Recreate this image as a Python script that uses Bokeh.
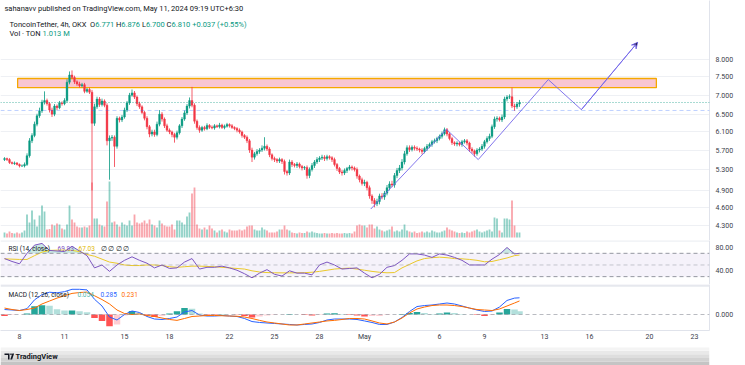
import pandas as pd
from bokeh.plotting import figure
from bokeh.layouts import column
from bokeh.models import (Range1d, LinearScale, FixedTicker, PrintfTickFormatter, Span,
                          Label, BoxAnnotation, PolyAnnotation, Arrow, VeeHead)
from bokeh.embed import file_html
from bokeh.resources import INLINE

FONT = "Roboto"
TXT = "#131722"
AX = "#3a3e4a"
UP = "#089981"
DN = "#f23645"
GRID = "#eef0f4"
SEP = "#e0e3eb"
PROJ = "#7466ea"

# ---------------- data (TONUSDT 4h, OKX) ----------------
start_time = "2024-04-07 00:00"
first_open = 5.50
closes = [5.52, 5.50, 5.44, 5.42, 5.43, 5.40, 5.37, 5.37, 5.40, 5.58,
          5.90, 6.02, 6.28, 6.48, 6.60, 6.82, 6.86, 6.78, 6.62, 6.52,
          6.72, 6.68, 6.80, 6.78, 6.86, 7.35, 7.55, 7.48, 7.36, 7.30,
          7.25, 7.28, 7.10, 7.15, 7.08, 6.30, 6.70, 6.90, 6.76, 6.85,
          6.74, 5.90, 5.96, 5.98, 5.78, 6.42, 6.38, 6.45, 6.62, 6.80,
          7.00, 7.06, 6.95, 6.78, 6.70, 6.56, 6.42, 6.22, 6.05, 6.10,
          6.04, 6.28, 6.52, 6.40, 6.24, 6.14, 6.10, 6.04, 5.98, 6.08,
          6.24, 6.40, 6.55, 6.72, 6.86, 6.74, 6.35, 6.20, 6.14, 6.20,
          6.17, 6.25, 6.21, 6.19, 6.24, 6.22, 6.26, 6.20, 6.23, 6.27,
          6.24, 6.20, 6.18, 6.14, 6.10, 6.02, 5.98, 5.90, 5.70, 5.55,
          5.62, 5.67, 5.70, 5.74, 5.78, 5.72, 5.60, 5.52, 5.50, 5.47,
          5.50, 5.46, 5.26, 5.23, 5.45, 5.40, 5.38, 5.41, 5.36, 5.33,
          5.34, 5.18, 5.30, 5.38, 5.45, 5.50, 5.53, 5.55, 5.52, 5.56,
          5.54, 5.50, 5.40, 5.32, 5.25, 5.23, 5.28, 5.32, 5.35, 5.33,
          5.30, 5.17, 5.10, 5.03, 5.05, 4.95, 4.80, 4.72, 4.66, 4.70,
          4.80, 4.78, 4.85, 4.95, 5.02, 5.00, 5.18, 5.28, 5.33, 5.45,
          5.62, 5.75, 5.71, 5.76, 5.74, 5.72, 5.70, 5.67, 5.73, 5.78,
          5.82, 5.88, 5.90, 5.95, 6.00, 6.06, 6.15, 6.05, 5.95, 5.86,
          5.83, 5.85, 5.82, 5.88, 5.90, 5.85, 5.72, 5.68, 5.62, 5.70,
          5.72, 5.78, 5.88, 5.95, 6.00, 6.22, 6.40, 6.42, 6.38, 6.45,
          6.90, 6.95, 6.96, 6.72, 6.70, 6.771, 6.810]
wick_up = [.03, .02, .03, .02, .03, .02, .02, .03, .04, .05,
           .06, .05, .06, .05, .08, .06, .24, .05, .04, .06,
           .05, .04, .05, .04, .06, .08, .10, .13, .05, .04,
           .06, .05, .05, .04, .05, .06, .08, .06, .05, .06,
           .04, .05, .06, .05, .04, .05, .04, .05, .06, .05,
           .06, .09, .05, .04, .05, .04, .04, .05, .04, .05,
           .05, .06, .10, .05, .04, .05, .04, .03, .04, .05,
           .04, .05, .06, .05, .08, .36, .05, .04, .05, .04,
           .04, .05, .03, .04, .04, .03, .05, .03, .04, .04,
           .03, .04, .03, .03, .04, .03, .03, .04, .04, .05,
           .04, .05, .04, .06, .20, .04, .04, .03, .04, .03,
           .04, .03, .04, .03, .05, .04, .03, .04, .03, .03,
           .03, .04, .04, .05, .04, .05, .04, .05, .04, .04,
           .03, .03, .04, .03, .03, .04, .04, .03, .04, .03,
           .03, .04, .03, .04, .05, .03, .04, .03, .04, .05,
           .04, .05, .04, .05, .05, .06, .05, .05, .06, .06,
           .06, .05, .05, .04, .04, .04, .03, .04, .04, .05,
           .04, .04, .05, .04, .04, .05, .05, .04, .04, .04,
           .03, .04, .03, .04, .04, .04, .03, .04, .03, .04,
           .04, .05, .04, .05, .06, .05, .06, .05, .04, .06,
           .06, .05, .06, .24, .06, .05, .066]
wick_dn = [.03, .03, .03, .02, .03, .02, .03, .02, .03, .03,
           .04, .05, .04, .05, .05, .05, .06, .05, .06, .07,
           .05, .06, .04, .05, .04, .05, .06, .05, .06, .05,
           .05, .04, .05, .04, .05, 1.40, .06, .05, .06, .05,
           .05, .10, .80, .06, .43, .05, .06, .05, .04, .05,
           .05, .04, .05, .06, .05, .04, .05, .06, .07, .05,
           .05, .04, .05, .06, .05, .04, .05, .06, .12, .05,
           .04, .05, .04, .05, .06, .05, .06, .05, .06, .04,
           .04, .03, .04, .03, .04, .03, .04, .03, .04, .03,
           .04, .03, .04, .05, .04, .05, .04, .05, .06, .10,
           .05, .04, .05, .04, .05, .04, .05, .04, .05, .04,
           .04, .05, .06, .05, .04, .05, .04, .05, .04, .05,
           .04, .06, .05, .04, .05, .04, .05, .04, .05, .04,
           .04, .05, .04, .05, .04, .05, .04, .05, .04, .05,
           .04, .05, .05, .04, .05, .05, .05, .06, .06, .04,
           .05, .04, .05, .04, .05, .04, .05, .05, .05, .05,
           .05, .04, .05, .04, .05, .04, .05, .06, .04, .05,
           .04, .05, .04, .05, .04, .05, .04, .05, .04, .05,
           .04, .05, .04, .05, .04, .05, .06, .05, .06, .04,
           .05, .04, .05, .04, .05, .04, .05, .06, .04, .05,
           .05, .06, .05, .05, .10, .05, .071]
volume_m = [1.0, 0.8, 1.2, 0.9, 0.8, 1.0, 0.8, 1.0, 1.4, 4.6,
            3.0, 5.4, 3.6, 2.2, 4.4, 6.4, 5.2, 1.6, 1.7, 2.6,
            2.4, 2.8, 2.6, 1.8, 1.6, 2.6, 6.4, 3.6, 3.0, 2.2,
            2.0, 2.0, 2.2, 2.0, 2.4, 11.0, 3.8, 3.8, 2.6, 2.4,
            2.2, 7.2, 11.2, 3.0, 3.2, 2.6, 2.2, 3.0, 2.6, 2.4,
            3.4, 2.4, 4.6, 3.0, 2.8, 3.0, 3.4, 2.8, 3.6, 2.6,
            2.4, 2.0, 3.4, 2.8, 2.4, 2.2, 2.2, 2.6, 1.6, 3.4,
            3.4, 3.0, 2.6, 4.2, 5.0, 8.8, 10.0, 2.6, 1.8, 1.6,
            2.0, 1.6, 2.4, 1.8, 1.4, 1.0, 1.4, 1.6, 1.2, 1.0,
            1.6, 1.4, 1.4, 1.4, 1.6, 1.4, 1.6, 2.2, 2.4, 2.4,
            1.6, 1.4, 1.4, 2.0, 1.6, 1.4, 1.0, 1.0, 1.0, 1.2,
            1.6, 1.6, 2.4, 1.6, 1.4, 1.0, 0.9, 0.8, 1.0, 0.9,
            0.9, 1.2, 1.0, 1.2, 1.0, 0.9, 0.8, 0.8, 0.9, 0.8,
            0.8, 0.9, 0.8, 0.9, 0.8, 0.8, 0.9, 0.8, 0.9, 0.8,
            1.2, 2.4, 2.6, 2.4, 2.4, 2.0, 2.6, 2.6, 1.8, 2.2,
            1.6, 1.4, 1.2, 1.4, 1.6, 2.2, 1.2, 1.4, 1.2, 1.6,
            2.6, 1.4, 1.2, 1.0, 1.2, 0.9, 1.0, 1.2, 1.0, 1.2,
            1.0, 1.4, 1.2, 1.0, 1.0, 1.2, 1.4, 2.0, 1.6, 1.4,
            1.2, 1.0, 0.9, 1.0, 0.9, 1.2, 1.0, 1.2, 1.4, 1.6,
            1.2, 1.0, 1.2, 1.4, 1.6, 1.2, 4.0, 3.8, 1.4, 1.0,
            3.8, 3.8, 3.6, 7.4, 2.4, 1.0, 1.013]

# indicators, read every third candle (candle index list below)
ind_index = list(range(0, 207, 3)) + [206]
rsi = [61, 56, 52, 70, 84, 87, 75, 74, 73, 82, 74, 66, 45, 50, 39, 50, 58, 64, 58, 53,
       45, 50, 44, 45, 55, 61, 43, 46, 46, 48, 45, 41, 35, 28, 36, 42, 34, 31, 40, 36,
       36, 33, 50, 55, 50, 43, 44, 45, 36, 28, 34, 46, 49, 58, 69, 69, 67, 63, 69, 67,
       63, 58, 50, 50, 50, 60, 68, 80, 69, 69.93]
rsi_ma = [60.5, 60, 59.5, 59.5, 66, 72, 75, 75.5, 75.5, 75, 73, 68, 65, 60, 55, 53, 50, 49, 49, 50,
          50, 49, 47, 46, 47, 48, 48, 47.5, 47, 46, 45, 44, 43, 40, 38, 37, 36.6, 36.5, 36.5, 36.6,
          36.8, 37.5, 39, 41, 43, 44, 44.6, 43, 41, 39, 37.5, 36.6, 37, 45, 51, 57, 61, 62.5, 63.4, 62.5,
          61, 60.5, 59.5, 58, 55.5, 56, 59, 62, 66, 67.03]
macd = [0.085, 0.077, 0.068, 0.10, 0.25, 0.34, 0.38, 0.37, 0.39, 0.43,
        0.43, 0.42, 0.26, 0.145, -0.043, -0.094, 0.0, 0.06, 0.034, -0.034,
        -0.077, -0.085, -0.068, -0.043, 0.043, 0.068, -0.009, -0.026, -0.026, -0.017,
        -0.026, -0.034, -0.068, -0.12, -0.136, -0.145, -0.153, -0.162, -0.17, -0.179,
        -0.17, -0.162, -0.136, -0.094, -0.077, -0.077, -0.077, -0.085, -0.11, -0.136,
        -0.17, -0.17, -0.128, -0.051, 0.051, 0.136, 0.153, 0.162, 0.179, 0.196,
        0.179, 0.145, 0.11, 0.077, 0.051, 0.06, 0.128, 0.24, 0.28, 0.285]
macd_signal = [0.11, 0.085, 0.068, 0.085, 0.11, 0.18, 0.23, 0.28, 0.32, 0.36,
               0.375, 0.383, 0.32, 0.255, 0.18, 0.077, 0.017, 0.0, 0.009, -0.017,
               -0.034, -0.06, -0.085, -0.1, -0.068, -0.034, -0.026, -0.017, -0.017, -0.021,
               -0.026, -0.03, -0.043, -0.068, -0.1, -0.128, -0.145, -0.162, -0.179, -0.179,
               -0.162, -0.145, -0.128, -0.11, -0.1, -0.085, -0.068, -0.068, -0.077, -0.11,
               -0.145, -0.162, -0.128, -0.06, 0.026, 0.094, 0.128, 0.153, 0.162, 0.162,
               0.153, 0.136, 0.11, 0.085, 0.077, 0.068, 0.094, 0.145, 0.196, 0.231]
macd_hist = [-0.025, -0.008, 0.0, 0.015, 0.14, 0.16, 0.15, 0.09, 0.07, 0.07,
             0.055, 0.037, -0.06, -0.11, -0.2, -0.17, -0.017, 0.06, 0.025, -0.017,
             -0.043, -0.025, 0.017, 0.057, 0.11, 0.10, 0.017, -0.009, -0.009, 0.004,
             0.0, -0.004, -0.025, -0.052, -0.036, -0.017, -0.008, 0.0, 0.009, 0.0,
             -0.008, -0.017, -0.008, 0.016, 0.023, 0.008, -0.009, -0.017, -0.033, -0.026,
             -0.025, -0.008, 0.0, 0.009, 0.025, 0.042, 0.025, 0.009, 0.017, 0.034,
             0.026, 0.009, 0.0, -0.008, -0.026, -0.008, 0.034, 0.095, 0.084, 0.054]

# drawings
zone_times = ["2024-04-07 21:00", "2024-05-20 11:00"]
zone_prices = [7.20, 7.45]
proj_times = ["2024-05-01 10:00", "2024-05-06 11:00", "2024-05-08 14:00",
              "2024-05-13 06:00", "2024-05-15 11:00", "2024-05-19 05:00"]
proj_prices = [4.57, 6.16, 5.50, 7.42, 6.63, 8.53]
last_price = 6.810
alert_price = 6.610

price_ticks = [4.3, 4.6, 4.9, 5.3, 5.7, 6.1, 6.5, 7.0, 7.5, 8.0]
rsi_ticks = [40, 80]
rsi_levels = [70, 50, 30]
time_tick_dates = ["2024-04-08", "2024-04-11", "2024-04-15", "2024-04-18", "2024-04-22",
                   "2024-04-25", "2024-04-28", "2024-05-01", "2024-05-06", "2024-05-09",
                   "2024-05-13", "2024-05-16", "2024-05-20", "2024-05-23"]
time_tick_labels = ["8", "11", "15", "18", "22", "25", "28", "May", "6", "9",
                    "13", "16", "20", "23"]
view_start, view_end = "2024-04-06 17:36", "2024-05-24 00:00"


def ms(s):
    return float(pd.Timestamp(s).value // 10**6)


# ---------------- derived ----------------
n = len(closes)
times = [ms(t) for t in pd.date_range(start_time, periods=n, freq="4h")]
opens = [first_open] + closes[:-1]
highs = [max(o, c) + u for o, c, u in zip(opens, closes, wick_up)]
lows = [min(o, c) - d for o, c, d in zip(opens, closes, wick_dn)]
cols = [UP if c >= o else DN for o, c in zip(opens, closes)]
ind_t = [times[i] for i in ind_index]
H4 = 4 * 3600 * 1000

hist_cols = []
prev = 0.0
for h in macd_hist:
    if h >= 0:
        hist_cols.append("#26a69a" if h >= prev else "#b2dfdb")
    else:
        hist_cols.append("#ffcdd2" if h > prev else "#ff5252")
    prev = h

xr = Range1d(ms(view_start), ms(view_end))
FW = 709
RB = 36


def base_fig(fh, yr, **kw):
    f = figure(frame_width=FW, frame_height=fh, x_range=xr, y_range=yr,
               y_axis_location="right", output_backend="svg", toolbar_location=None,
               min_border_left=0, min_border_right=RB, min_border_top=0,
               min_border_bottom=0, title=None, **kw)
    f.outline_line_color = None
    f.xgrid.visible = False
    ya = f.yaxis[0]
    ya.axis_line_color = SEP
    ya.major_tick_line_color = None
    ya.minor_tick_line_color = None
    ya.major_tick_out = 0
    ya.major_tick_in = 0
    ya.major_label_text_font = FONT
    ya.major_label_text_font_size = "7px"
    ya.major_label_text_color = AX
    ya.major_label_standoff = 6
    return f


def txt(fig, x, y, text, color=TXT, size="7.5px", bold=False):
    fig.add_layout(Label(x=x, y=y, x_units="screen", y_units="screen", text=text,
                         text_color=color, text_font=FONT, text_font_size=size,
                         text_baseline="middle",
                         text_font_style="bold" if bold else "normal"))


# ---------------- price pane ----------------
PH = 240
p = base_fig(PH, Range1d(4.062, 9.978), y_axis_type="log", x_axis_location=None)
p.yaxis.ticker = FixedTicker(ticks=price_ticks)
p.yaxis.formatter = PrintfTickFormatter(format="%.3f")
p.ygrid.grid_line_color = GRID
p.extra_y_ranges = {"vol": Range1d(-0.6, 47.4)}
p.extra_y_scales = {"vol": LinearScale()}

p.vbar(x=times, top=volume_m, bottom=0, width=H4 * 0.72, fill_color=cols,
       fill_alpha=0.45, line_color=None, y_range_name="vol")
p.quad(left=[ms(zone_times[0])], right=[ms(zone_times[1])], bottom=[zone_prices[0]],
       top=[zone_prices[1]], fill_color="#f9c6d2", fill_alpha=1.0,
       line_color="#f5a800", line_width=1.3)
p.add_layout(Span(location=last_price, dimension="width", line_color=UP, line_alpha=0.7,
                  line_dash="1 2", line_width=1))
p.add_layout(Span(location=alert_price, dimension="width", line_color="#2962ff",
                  line_alpha=0.3, line_dash="4 3", line_width=1))
p.segment(x0=times, y0=lows, x1=times, y1=highs, line_color=cols, line_width=0.8)
p.vbar(x=times, top=[max(o, c) for o, c in zip(opens, closes)],
       bottom=[min(o, c) for o, c in zip(opens, closes)], width=H4 * 0.72,
       fill_color=cols, line_color=cols, line_width=0.4)

pt = [ms(t) for t in proj_times]
p.line(pt, proj_prices, line_color=PROJ, line_width=0.9)
p.add_layout(Arrow(end=VeeHead(size=6, line_color=PROJ, line_width=0.9),
                   x_start=pt[-2], y_start=proj_prices[-2], x_end=pt[-1], y_end=proj_prices[-1],
                   line_color=PROJ, line_width=0.9))

# badges on price scale
for val, bg in [(last_price, UP), (alert_price, "#2962ff")]:
    p.add_layout(Label(x=FW + 1, y=val, x_units="screen", y_units="data",
                       text=f"{val:.3f}", text_color="white", text_font=FONT,
                       text_font_size="7px", text_baseline="middle",
                       background_fill_color=bg, padding=2))

txt(p, 716, PH - 24, "USDT", color=AX, size="7px")
txt(p, 4, PH - 8, "sahanavv published on TradingView.com, May 11, 2024 09:19 UTC+6:30")
txt(p, 9, PH - 24, "ToncoinTether, 4h, OKX")
for x, s, c in [(89.6, "O", TXT), (94.8, "6.771", UP), (115.5, "H", TXT), (120.7, "6.876", UP),
                (141.4, "L", TXT), (145.4, "6.700", UP), (166.1, "C", TXT), (171.0, "6.810", UP),
                (191.7, "+0.037", UP), (216.6, "(+0.55%)", UP)]:
    txt(p, x, PH - 24, s, color=c)
txt(p, 9, PH - 33, "Vol · TON")
txt(p, 42, PH - 33, "1.013 M", color=UP)

# ---------------- RSI pane ----------------
r = base_fig(44, Range1d(16.5, 92.0), x_axis_location=None)
r.yaxis.ticker = FixedTicker(ticks=rsi_ticks)
r.yaxis.formatter = PrintfTickFormatter(format="%.2f")
r.ygrid.visible = False
r.add_layout(BoxAnnotation(bottom=rsi_levels[2], top=rsi_levels[0], fill_color="#7e57c2",
                           fill_alpha=0.08, line_color=None))
for lvl, a in zip(rsi_levels, [0.9, 0.45, 0.9]):
    r.add_layout(Span(location=lvl, dimension="width", line_color="#8a8d97", line_alpha=a,
                      line_dash="4 3", line_width=1))
r.add_layout(Span(location=91.3, dimension="width", line_color=SEP, line_width=1))
# overbought / oversold shading
r.varea(x=ind_t, y1=[rsi_levels[0]] * len(rsi), y2=[max(v, rsi_levels[0]) for v in rsi],
        fill_color=UP, fill_alpha=0.22)
r.varea(x=ind_t, y1=[min(v, rsi_levels[2]) for v in rsi], y2=[rsi_levels[2]] * len(rsi),
        fill_color=DN, fill_alpha=0.18)
r.line(ind_t, rsi_ma, line_color="#f5d31e", line_width=1)
r.line(ind_t, rsi, line_color="#7e57c2", line_width=1)
txt(r, 8, 36, "RSI (14, close)", size="6.5px")
txt(r, 57, 36, "69.93", color="#7e57c2", size="6.5px")
txt(r, 78, 36, "67.03", color="#e0b800", size="6.5px")
txt(r, 100, 36, "∅ ∅ ∅ ∅", size="6.5px")

# ---------------- MACD pane ----------------
m = base_fig(46, Range1d(-0.273, 0.512), x_axis_location="below")
m.min_border_bottom = 11
m.yaxis.ticker = FixedTicker(ticks=[0.0])
m.yaxis.formatter = PrintfTickFormatter(format="%.3f")
m.ygrid.visible = False
m.add_layout(Span(location=0.0, dimension="width", line_color="#8a8d97", line_alpha=0.6,
                  line_dash="4 3", line_width=1))
m.add_layout(Span(location=0.497, dimension="width", line_color="#e6e8ee", line_width=2.5))
m.vbar(x=ind_t, top=macd_hist, bottom=0, width=H4 * 2.6, fill_color=hist_cols,
       line_color=None)
m.line(ind_t, macd, line_color="#2962ff", line_width=1)
m.line(ind_t, macd_signal, line_color="#ff6d00", line_width=1)
txt(m, 8, 36, "MACD (12, 26, close)", size="6.5px")
txt(m, 77, 36, "0.054", color="#4db6ac", size="6.5px")
txt(m, 100, 36, "0.285", color="#2962ff", size="6.5px")
txt(m, 121, 36, "0.231", color="#ff6d00", size="6.5px")

xa = m.xaxis[0]
tick_ms = [ms(d) for d in time_tick_dates]
xa.ticker = FixedTicker(ticks=tick_ms)
xa.major_label_overrides = {t: lab for t, lab in zip(tick_ms, time_tick_labels)}
xa.axis_line_color = SEP
xa.major_tick_line_color = None
xa.minor_tick_line_color = None
xa.major_tick_out = 0
xa.major_tick_in = 0
xa.major_label_standoff = 2
xa.major_label_text_font = FONT
xa.major_label_text_font_size = "7px"
xa.major_label_text_color = AX

# ---------------- footer ----------------
f = figure(width=FW + RB, height=24, x_range=Range1d(0, 1), y_range=Range1d(0, 1),
           x_axis_location=None, y_axis_location=None, output_backend="svg",
           toolbar_location=None, min_border=0, title=None)
f.outline_line_color = None
f.grid.visible = False
for b, t, c in [(0.0, 0.1, "#9a9a9a"), (0.1, 0.25, "#c4c4c4"), (0.25, 0.4, "#d2d2d2"),
                (0.4, 0.55, "#dedede"), (0.55, 0.7, "#e9e9e9"), (0.7, 0.83, "#f4f4f4")]:
    f.add_layout(BoxAnnotation(bottom=b, top=t, fill_color=c, fill_alpha=1, line_color=None))
# small TradingView logo mark
f.add_layout(PolyAnnotation(xs=[4, 9, 9, 7.5, 7.5, 4], ys=[14, 14, 8, 8, 12.5, 12.5],
                            xs_units="screen", ys_units="screen", fill_color=TXT,
                            fill_alpha=1, line_color=None))
f.add_layout(PolyAnnotation(xs=[9.8, 11.2, 11.2, 9.8], ys=[14, 14, 12.6, 12.6],
                            xs_units="screen", ys_units="screen", fill_color=TXT,
                            fill_alpha=1, line_color=None))
f.add_layout(PolyAnnotation(xs=[11.8, 13.6, 11.6, 9.8], ys=[14, 14, 8, 8],
                            xs_units="screen", ys_units="screen", fill_color=TXT,
                            fill_alpha=1, line_color=None))
txt(f, 15, 11, "TradingView", size="7.5px", bold=True)

layout = column(p, r, m, f, spacing=0)
open("out.html", "w").write(file_html(layout, INLINE))
